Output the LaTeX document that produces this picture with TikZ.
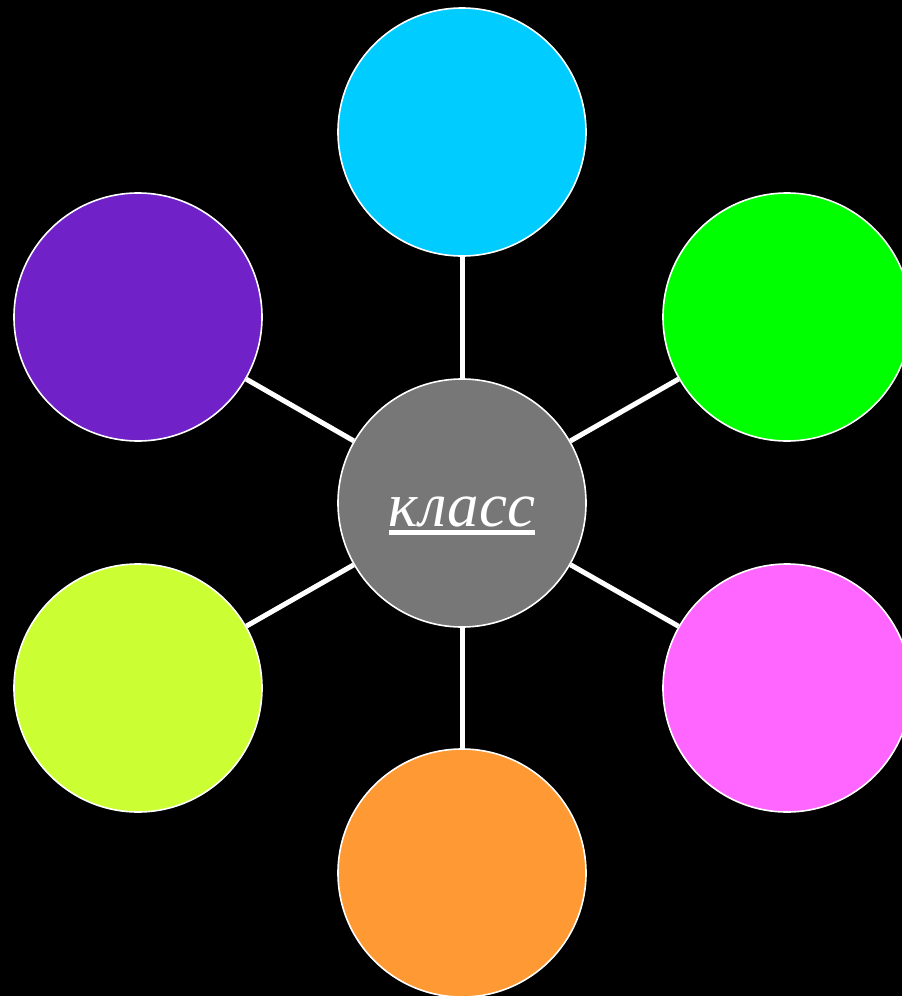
\documentclass[tikz,border=0pt]{standalone}
\usepackage{fontspec}
\setmainfont{Liberation Serif}
\usepackage{tikz}
\usetikzlibrary{positioning}
\usepackage{xcolor}
\definecolor{Sky}{HTML}{00CCFF}
\definecolor{Lime}{HTML}{00FF00}
\definecolor{Pink}{HTML}{FF66FF}
\definecolor{Peach}{HTML}{FF9933}
\definecolor{Chart}{HTML}{CCFF33}
\definecolor{Violet}{HTML}{7021C8}
\definecolor{Ash}{HTML}{777777}
\newsavebox{\ulbox}
\newcommand{\ulword}[1]{\sbox{\ulbox}{#1}%
  \rlap{\rule[-9pt]{\wd\ulbox}{5pt}}\usebox{\ulbox}}
\tikzset{
  bubble/.style={circle, draw=white, line width=1.6pt, minimum size=248pt,
    inner sep=0pt, fill=#1},
  bubble/.default={Ash},
  spoke/.style={draw=white, line width=5pt},
}

\begin{document}
\begin{tikzpicture}[x=1pt, y=-1pt]
  \fill[black] (0,0) rectangle (902,996);
  \useasboundingbox (0,0) rectangle (902,996);

  \node[bubble, text=white, font=\fontsize{63}{70}\selectfont\itshape,
    text height=46pt, text depth=0pt] (hub) at (462,503)
    {\ulword{класс}};

  \node[bubble=Sky]    (top)  at (462,132) {};
  \node[bubble=Lime]   (tr)   at (787,317) {};
  \node[bubble=Pink]   (br)   at (787,688) {};
  \node[bubble=Peach]  (bot)  at (462,873) {};
  \node[bubble=Chart]  (bl)   at (138,688) {};
  \node[bubble=Violet] (tl)   at (138,317) {};

  % spokes run border to border
  \foreach \n in {top,tr,br,bot,bl,tl}
    \draw[spoke] (hub) -- (\n);
\end{tikzpicture}
\end{document}
